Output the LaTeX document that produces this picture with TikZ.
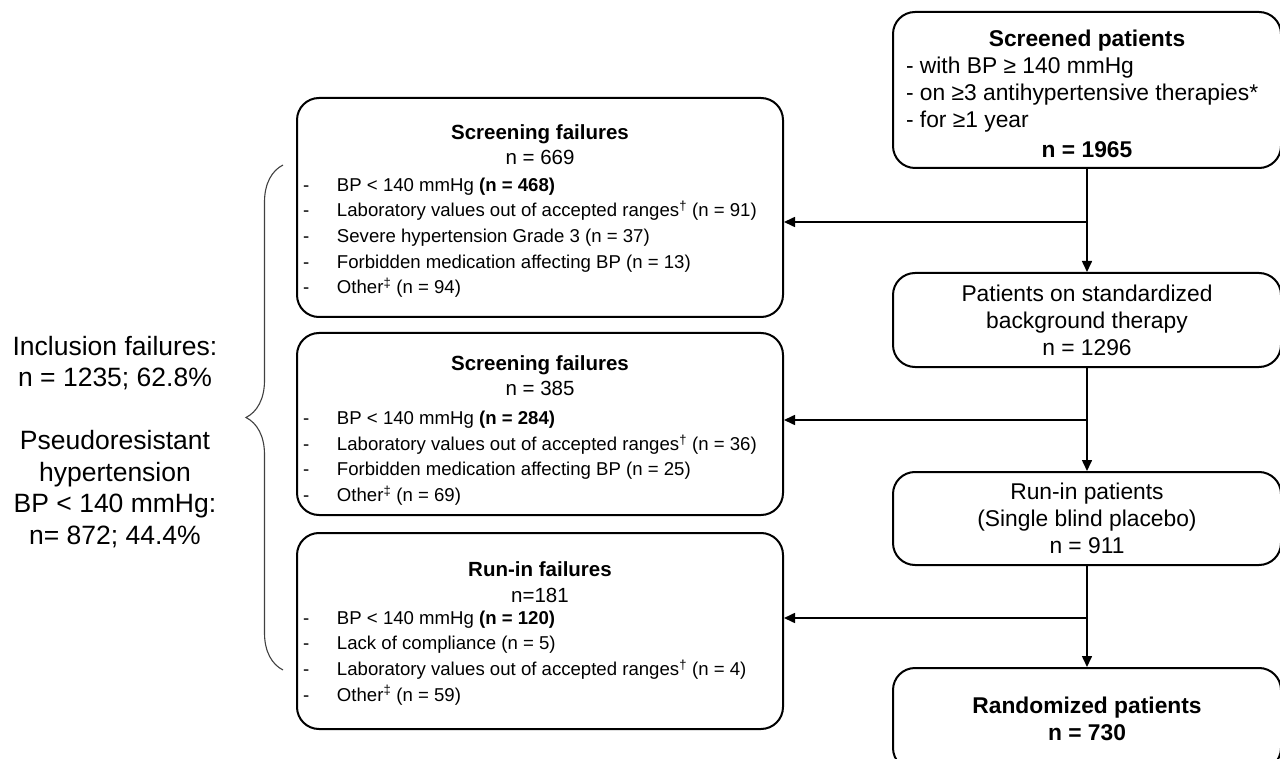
\documentclass[tikz,border=0pt]{standalone}
\usepackage{fontspec}
\setmainfont{Liberation Sans}
\usetikzlibrary{arrows.meta,decorations.pathreplacing}
\newcommand\bxfont{\fontsize{22.8pt}{27pt}\selectfont}
\newcommand\ttlfont{\fontsize{20.5pt}{26pt}\selectfont}
\newcommand\itmfont{\fontsize{18.6pt}{25.6pt}\selectfont}
\newcommand\sidefont{\fontsize{26.5pt}{31.5pt}\selectfont}
\newcommand\li[1]{\makebox[34pt][l]{-}#1}
\newcommand\lttl[1]{\makebox[474pt][c]{\ttlfont #1}}
\newcommand\rttl[1]{\makebox[362pt][c]{#1}}
\newcommand\sdag{\textsuperscript{†}}
\newcommand\sddag{\textsuperscript{‡}}
\newcommand\topstrut[1]{\rule{0pt}{#1}}
\begin{document}
\begin{tikzpicture}[x=1pt,y=-1pt,
  box/.style={draw, line width=2pt, rounded corners=22pt, inner sep=0pt},
  lbox/.style={box, minimum width=486pt, align=left, font=\itmfont},
  rbox/.style={box, minimum width=388pt, font=\bxfont},
  arr/.style={line width=1.6pt, -{Triangle[length=11pt,width=10pt]}},
  bracestyle/.style={decorate, decoration={brace, amplitude=37pt}, line width=1.1pt, black!75}]
\useasboundingbox (0,0) rectangle (1280,759);
\clip (0,0) rectangle (1280,759);

% right column
\node[rbox, align=left, minimum height=156pt] (scr) at (1087,90) {%
  \rttl{\topstrut{23.6pt}\bfseries Screened patients}\\
  - with BP ≥ 140 mmHg\\
  - on ≥3 antihypertensive therapies*\\
  - for ≥1 year\\[3pt]
  \rttl{\bfseries n = 1965}};
\node[rbox, align=center, minimum height=94pt] (std) at (1087,320)
  {Patients on standardized\\ background therapy\\ n = 1296};
\node[rbox, align=center, minimum height=93pt] (run) at (1087,518.5)
  {Run-in patients\\ (Single blind placebo)\\ n = 911};
\node[rbox, align=center, minimum height=102pt, font=\bxfont\bfseries] (rand) at (1087,719)
  {Randomized patients\\ n = 730};

% left column
\node[lbox, minimum height=219pt] (sf1) at (540,207.5) {%
  \lttl{\topstrut{21.5pt}\bfseries Screening failures}\\
  \lttl{n = 669}\\[1pt]
  \li{BP < 140 mmHg \textbf{(n = 468)}}\\
  \li{Laboratory values out of accepted ranges\sdag\ (n = 91)}\\
  \li{Severe hypertension Grade 3 (n = 37)}\\
  \li{Forbidden medication affecting BP (n = 13)}\\
  \li{Other\sddag\ (n = 94)}};
\node[lbox, minimum height=182pt] (sf2) at (540,424) {%
  \lttl{\topstrut{27.5pt}\bfseries Screening failures}\\
  \lttl{n = 385}\\[3.5pt]
  \li{BP < 140 mmHg \textbf{(n = 284)}}\\
  \li{Laboratory values out of accepted ranges\sdag\ (n = 36)}\\
  \li{Forbidden medication affecting BP (n = 25)}\\
  \li{Other\sddag\ (n = 69)}};
\node[lbox, minimum height=196pt] (rf) at (540,631) {%
  \lttl{\topstrut{19.5pt}\bfseries Run-in failures}\\
  \lttl{n=181}\\[-3.5pt]
  \li{BP < 140 mmHg \textbf{(n = 120)}}\\
  \li{Lack of compliance (n = 5)}\\
  \li{Laboratory values out of accepted ranges\sdag\ (n = 4)}\\
  \li{Other\sddag\ (n = 59)}};

% side text
\node[align=center, font=\sidefont, inner sep=0pt] (side) at (115,442)
  {Inclusion failures:\\ n = 1235; 62.8\%\\[31.5pt] Pseudoresistant\\ hypertension\\ BP < 140 mmHg:\\ n= 872; 44.4\%};

% connectors
\coordinate (j1) at (1087,222);
\coordinate (j2) at (1087,420);
\coordinate (j3) at (1087,618);
\draw[arr] (scr) -- (std);
\draw[arr] (std) -- (run);
\draw[arr] (run) -- (rand);
\draw[arr] (j1) -- (j1 -| sf1.east);
\draw[arr] (j2) -- (j2 -| sf2.east);
\draw[arr] (j3) -- (j3 -| rf.east);

% brace
\coordinate (bb) at (283,670);
\coordinate (bt) at (283,165);
\draw[bracestyle] (bb) -- (bt);
\end{tikzpicture}
\end{document}
